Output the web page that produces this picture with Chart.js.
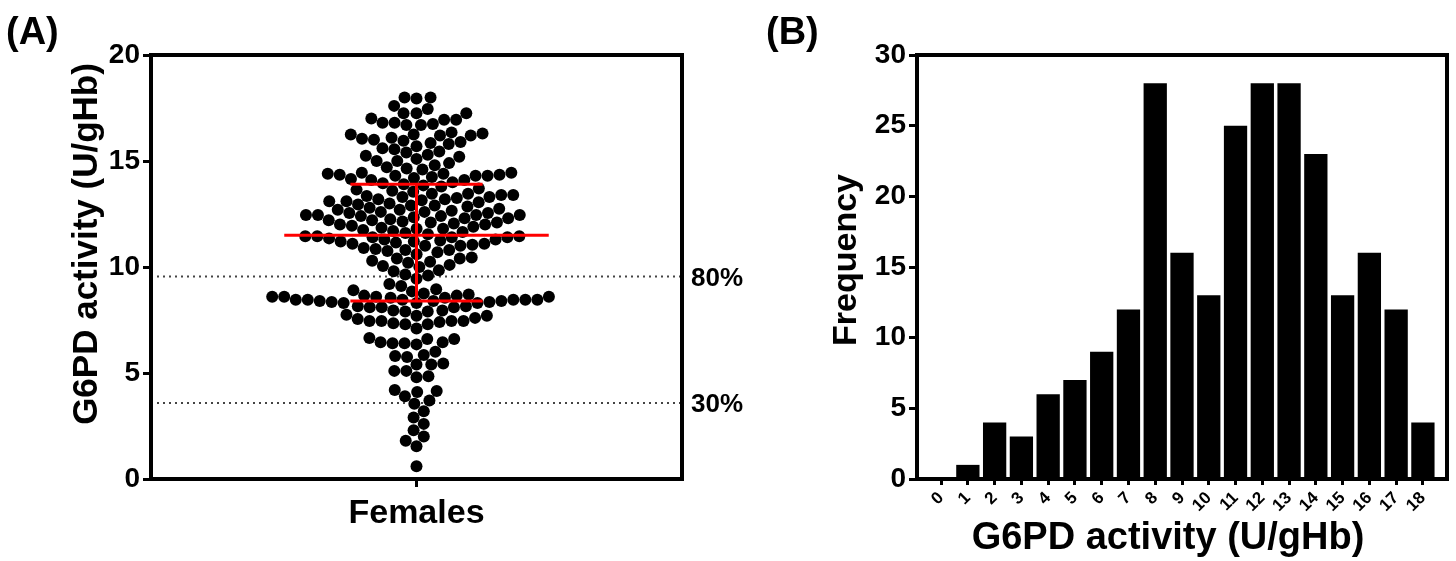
<!DOCTYPE html>
<html>
<head>
<meta charset="utf-8">
<script src="https://cdn.jsdelivr.net/npm/chart.js@4.4.1/dist/chart.umd.min.js"></script>
<style>
    html, body { margin: 0; padding: 0; background: #fff; }
    #wrap { position: relative; width: 1456px; height: 561px; }
    .panel { position: absolute; top: 0; }
    #panel-a { left: 0; width: 760px; height: 561px; }
    #panel-b { left: 760px; width: 696px; height: 561px; }
</style>
</head>
<body>
<div id="wrap">
    <div class="panel" id="panel-a"><canvas id="chart-a" width="760" height="561"></canvas></div>
    <div class="panel" id="panel-b"><canvas id="chart-b" width="696" height="561"></canvas></div>
</div>
<script>
// (A) G6PD activity of each female, U/gHb
const femaleActivity = [
    0.6,
    1.55, 1.8, 2.0, 2.3,
    2.6, 2.9, 3.2,
    3.55, 3.7, 3.9, 4.1, 4.15, 4.2,
    4.8, 4.85, 5.1, 5.1, 5.4, 5.4, 5.45,
    5.75, 5.8, 5.85, 6.0, 6.35, 6.4, 6.4, 6.45, 6.45,
    6.6, 6.6, 6.65, 7.1, 7.3, 7.3, 7.35, 7.4, 7.45, 7.45, 7.45, 7.45,
    7.55, 7.6, 7.7, 7.7, 7.75, 7.9, 7.9, 7.95, 7.95, 8.1, 8.1, 8.1, 8.15, 8.15,
    8.3, 8.3, 8.3, 8.35, 8.35, 8.4, 8.4, 8.4, 8.45, 8.45, 8.45, 8.45, 8.45, 8.45,
    8.55, 8.55, 8.6, 8.6, 8.6, 8.6, 8.65, 8.65, 8.7, 8.75, 8.85, 8.9, 8.95, 9.1, 9.2, 9.45,
    9.6, 9.65, 9.8, 9.85, 10.0, 10.05, 10.1, 10.2, 10.25, 10.3, 10.4, 10.4, 10.45,
    10.6, 10.7, 10.75, 10.8, 10.8, 10.85, 10.9, 11.0, 11.0, 11.05, 11.1, 11.1, 11.15,
    11.2, 11.2, 11.25, 11.3, 11.3, 11.35, 11.4, 11.4, 11.4, 11.45, 11.45, 11.45,
    11.55, 11.6, 11.65, 11.7, 11.75, 11.8, 11.8, 11.85, 11.9, 11.95, 12.0, 12.0, 12.05, 12.1,
    12.1, 12.15, 12.2, 12.2, 12.25, 12.3, 12.3, 12.35, 12.4, 12.4, 12.45, 12.45, 12.45, 12.45,
    12.55, 12.55, 12.6, 12.6, 12.65, 12.7, 12.7, 12.75, 12.8, 12.85, 12.9, 12.9, 12.95, 13.0,
    13.05, 13.1, 13.1, 13.15, 13.2, 13.2, 13.25, 13.3, 13.3, 13.35, 13.4, 13.4, 13.45, 13.45,
    13.55, 13.6, 13.65, 13.7, 13.8, 13.85, 13.9, 13.95, 14.0, 14.1, 14.1, 14.15,
    14.2, 14.25, 14.3, 14.3, 14.3, 14.35, 14.35, 14.4, 14.4, 14.45, 14.45,
    14.6, 14.65, 14.7, 14.8, 14.9, 15.0, 15.0, 15.1, 15.2, 15.25, 15.3, 15.4, 15.45,
    15.55, 15.6, 15.7, 15.8, 15.85, 15.9, 15.95, 16.0, 16.05, 16.1, 16.2, 16.2, 16.25, 16.25, 16.3, 16.35,
    16.7, 16.7, 16.75, 16.8, 16.8, 16.95, 16.95, 17.0, 17.25, 17.25, 17.25, 17.45,
    17.6, 17.95, 18.0, 18.0
];
const groupLabel = 'Females';
const meanActivity = 11.5;
const sdRange = [8.4, 13.9];
const cutoffValues = [9.55, 3.58];
const cutoffLabels = ['80%', '30%'];
const yTicksA = [0, 5, 10, 15, 20];

// (B) histogram of the same values
const binCentres = [0, 1, 2, 3, 4, 5, 6, 7, 8, 9, 10, 11, 12, 13, 14, 15, 16, 17, 18];
const binLabels = ['0', '1', '2', '3', '4', '5', '6', '7', '8', '9', '10', '11', '12', '13', '14', '15', '16', '17', '18'];
const binCounts = [0, 1, 4, 3, 6, 7, 9, 12, 28, 16, 13, 25, 28, 28, 23, 13, 16, 12, 4];
const yTicksB = [0, 5, 10, 15, 20, 25, 30];

const FONT = "'Liberation Sans', Arial, sans-serif";
const DOT_GAP = 12;

Chart.defaults.font.family = FONT;
Chart.defaults.color = '#000';

const axisGrid = { drawOnChartArea: false, color: '#000', lineWidth: 3, tickLength: 8 };
const axisBorder = { display: true, color: '#000', width: 4 };

// box round the plot area, panel letter, axis titles
const framePlugin = {
    id: 'frame',
    afterDraw(chart) {
        const ctx = chart.ctx;
        const a = chart.chartArea;
        const opts = chart.options.plugins.frame;
        ctx.save();
        ctx.strokeStyle = '#000';
        ctx.lineWidth = 4;
        ctx.strokeRect(a.left, a.top, a.right - a.left, a.bottom - a.top);
        ctx.fillStyle = '#000';
        ctx.textBaseline = 'alphabetic';
        ctx.font = 'bold 38px ' + FONT;
        ctx.fillText(opts.letter, 6, 44);
        ctx.textAlign = 'center';
        opts.titles.forEach(function(t) {
            ctx.save();
            ctx.font = 'bold ' + t.size + 'px ' + FONT;
            ctx.translate(t.x, t.y);
            ctx.rotate(t.rotation || 0);
            ctx.fillText(t.text, 0, 0);
            ctx.restore();
        });
        ctx.restore();
    }
};

// dotted cut-off lines, mean +/- SD in red
const femalesOverlay = {
    id: 'femalesOverlay',
    beforeDatasetsDraw(chart) {
        const ctx = chart.ctx;
        const a = chart.chartArea;
        const y = chart.scales.y;
        ctx.save();
        ctx.strokeStyle = '#444';
        ctx.lineWidth = 2;
        ctx.setLineDash([2, 4]);
        cutoffValues.forEach(function(v) {
            const py = y.getPixelForValue(v);
            ctx.beginPath();
            ctx.moveTo(a.left, py);
            ctx.lineTo(a.right, py);
            ctx.stroke();
        });
        ctx.restore();
    },
    afterDatasetsDraw(chart) {
        const ctx = chart.ctx;
        const x = chart.scales.x;
        const y = chart.scales.y;
        const cx = x.getPixelForValue(0);
        const hline = function(v, half) {
            ctx.beginPath();
            ctx.moveTo(x.getPixelForValue(-half), y.getPixelForValue(v));
            ctx.lineTo(x.getPixelForValue(half), y.getPixelForValue(v));
            ctx.stroke();
        };
        ctx.save();
        ctx.strokeStyle = '#ff0000';
        ctx.lineWidth = 3;
        hline(meanActivity, 132);
        hline(sdRange[0], 66);
        hline(sdRange[1], 66);
        ctx.beginPath();
        ctx.moveTo(cx, y.getPixelForValue(sdRange[0]));
        ctx.lineTo(cx, y.getPixelForValue(sdRange[1]));
        ctx.stroke();
        ctx.restore();
    },
    afterDraw(chart) {
        const ctx = chart.ctx;
        const a = chart.chartArea;
        const y = chart.scales.y;
        ctx.save();
        ctx.font = 'bold 26px ' + FONT;
        ctx.fillStyle = '#000';
        ctx.textBaseline = 'middle';
        cutoffValues.forEach(function(v, i) {
            ctx.fillText(cutoffLabels[i], a.right + 9, y.getPixelForValue(v) + 2);
        });
        ctx.restore();
    }
};

// place the dots side by side (beeswarm) so none overlap
function layoutSwarm(chart) {
    const xScale = chart.scales.x;
    const yScale = chart.scales.y;
    const centre = xScale.getPixelForValue(0);
    const placed = [];
    let side = 1;
    const points = femaleActivity.slice().sort((a, b) => a - b).map(function(v) {
        const py = yScale.getPixelForValue(v);
        const near = placed.filter(p => Math.abs(p.y - py) < DOT_GAP);
        const options = [0];
        near.forEach(function(p) {
            const dx = Math.sqrt(DOT_GAP * DOT_GAP - (p.y - py) * (p.y - py));
            options.push(p.x - dx, p.x + dx);
        });
        options.sort((a, b) => (Math.abs(a) - Math.abs(b)) || (a - b) * side);
        const x = options.find(c => near.every(p => (p.x - c) ** 2 + (p.y - py) ** 2 >= DOT_GAP * DOT_GAP - 0.5));
        side = -side;
        placed.push({x: x, y: py});
        return {x: xScale.getValueForPixel(centre + x), y: v};
    });
    chart.data.datasets[0].data = points;
    chart.update('none');
}

const chartA = new Chart(document.getElementById('chart-a'), {
    type: 'scatter',
    data: {
        datasets: [{
            data: femaleActivity.map(v => ({x: 0, y: v})),
            backgroundColor: '#000',
            borderWidth: 0,
            pointRadius: 6,
            pointHoverRadius: 6
        }]
    },
    options: {
        responsive: false,
        animation: false,
        events: [],
        layout: { padding: { top: 55, right: 78, left: 0, bottom: 0 } },
        plugins: {
            legend: { display: false },
            tooltip: { enabled: false },
            frame: {
                letter: '(A)',
                titles: [{ text: 'G6PD activity (U/gHb)', x: 97, y: 244, size: 35, rotation: -Math.PI / 2 }]
            }
        },
        scales: {
            x: {
                type: 'linear',
                min: -265,
                max: 265,
                afterBuildTicks: s => { s.ticks = [{value: 0}]; },
                afterFit: s => { s.height = 82; },
                grid: axisGrid,
                border: axisBorder,
                ticks: {
                    callback: () => groupLabel,
                    maxRotation: 0,
                    padding: 6,
                    font: { size: 34, weight: 'bold' }
                }
            },
            y: {
                min: 0,
                max: 20,
                afterBuildTicks: s => { s.ticks = yTicksA.map(v => ({value: v})); },
                afterFit: s => { s.width = 151; },
                grid: axisGrid,
                border: axisBorder,
                ticks: { padding: 3, font: { size: 28, weight: 'bold' } }
            }
        }
    },
    plugins: [framePlugin, femalesOverlay]
});
layoutSwarm(chartA);

const chartB = new Chart(document.getElementById('chart-b'), {
    type: 'bar',
    data: {
        datasets: [{
            data: binCentres.map((b, i) => ({x: b, y: binCounts[i]})),
            backgroundColor: '#000',
            borderWidth: 0,
            barPercentage: 0.87,
            categoryPercentage: 1
        }]
    },
    options: {
        responsive: false,
        animation: false,
        events: [],
        layout: { padding: { top: 55, right: 9, left: 0, bottom: 0 } },
        plugins: {
            legend: { display: false },
            tooltip: { enabled: false },
            frame: {
                letter: '(B)',
                titles: [
                    { text: 'G6PD activity (U/gHb)', x: 408, y: 549, size: 38 },
                    { text: 'Frequency', x: 96, y: 260, size: 34, rotation: -Math.PI / 2 }
                ]
            }
        },
        scales: {
            x: {
                type: 'linear',
                min: -0.9,
                max: 18.9,
                offset: false,
                afterBuildTicks: s => { s.ticks = binCentres.map(v => ({value: v})); },
                afterFit: s => { s.height = 82; },
                grid: Object.assign({}, axisGrid, { offset: false, tickLength: 6 }),
                border: axisBorder,
                ticks: {
                    autoSkip: false,
                    minRotation: 45,
                    maxRotation: 45,
                    padding: 3,
                    callback: (v, i) => binLabels[i],
                    font: { size: 17, weight: 'bold' }
                }
            },
            y: {
                min: 0,
                max: 30,
                afterBuildTicks: s => { s.ticks = yTicksB.map(v => ({value: v})); },
                afterFit: s => { s.width = 157; },
                grid: axisGrid,
                border: axisBorder,
                ticks: { padding: 3, font: { size: 28, weight: 'bold' } }
            }
        }
    },
    plugins: [framePlugin]
});
</script>
</body>
</html>
